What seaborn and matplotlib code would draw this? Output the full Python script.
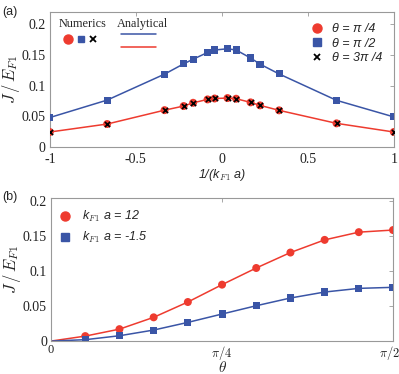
import numpy as np
import pandas as pd
import matplotlib
matplotlib.use("Agg")
import matplotlib.pyplot as plt
import matplotlib.transforms as mtransforms
from matplotlib.lines import Line2D
import seaborn as sns

# ---------------- data ----------------
inv_kfa = [-1.0, -0.667, -0.333, -0.222, -0.167, -0.083, -0.042, 0.033, 0.083, 0.167, 0.222, 0.333, 0.667, 1.0]
j_pi2 = [0.048, 0.0764, 0.1187, 0.1355, 0.143, 0.154, 0.158, 0.160, 0.158, 0.145, 0.135, 0.119, 0.076, 0.049]
j_pi4 = [0.0244, 0.0374, 0.060, 0.0667, 0.072, 0.0775, 0.079, 0.0797, 0.0786, 0.0727, 0.0678, 0.0597, 0.0385, 0.0244]
j_3pi4 = j_pi4

theta_k = [1, 2, 3, 4, 5, 6, 7, 8, 9, 10]  # theta = k*pi/20
j_kfa12 = [0.0071, 0.017, 0.0338, 0.0556, 0.0803, 0.104, 0.126, 0.144, 0.155, 0.158]
j_kfam15 = [0.0020, 0.0076, 0.0157, 0.0266, 0.0385, 0.0503, 0.0613, 0.0698, 0.075, 0.0765]

RED = "#EE3B2F"
BLUE = "#3A55A6"

sns.set_style("white")
plt.rcParams["font.family"] = ["Liberation Serif", "DejaVu Serif"]
plt.rcParams["mathtext.fontset"] = "cm"

fig = plt.figure(figsize=(3.99, 3.74), dpi=100)
ax1 = fig.add_axes([0.125, 0.607, 0.862, 0.361])
ax2 = fig.add_axes([0.128, 0.088, 0.857, 0.3824])

def style_axes(ax):
    for s in ax.spines.values():
        s.set_color("#999999")
        s.set_linewidth(0.8)
    ax.tick_params(direction="in", length=3, width=0.6, color="#999999",
                   top=True, right=True, labelsize=10, pad=3, labelcolor="#222222")
    ax.tick_params(axis="x", pad=4)

MS_C = 33
MS_S = 26

# ---------------- panel (a) ----------------
dfa = pd.DataFrame({"x": inv_kfa, "b": j_pi2, "r": j_pi4, "k": j_3pi4})
sns.lineplot(data=dfa, x="x", y="b", ax=ax1, color=BLUE, lw=1.1)
sns.lineplot(data=dfa, x="x", y="r", ax=ax1, color=RED, lw=1.1)
sns.scatterplot(data=dfa, x="x", y="r", ax=ax1, color=RED, marker="o", s=MS_C, edgecolor="none", zorder=3)
sns.scatterplot(data=dfa, x="x", y="b", ax=ax1, color=BLUE, marker="s", s=MS_S, edgecolor="none", zorder=3)
sns.scatterplot(data=dfa, x="x", y="k", ax=ax1, color="black", marker="x", s=14, linewidth=1.2, zorder=4)
ax1.set_xlim(-1, 1)
ax1.set_ylim(0, 0.22)
ax1.set_xticks([-1, -0.5, 0, 0.5, 1])
ax1.set_xticklabels(["-1", "-0.5", "0", "0.5", "1"])
ax1.set_yticks([0, 0.05, 0.1, 0.15, 0.2])
ax1.set_yticklabels(["0", "0.05", "0.1", "0.15", "0.2"])
style_axes(ax1)
ax1.set_xlabel(r"1/(k$_{F1}$ a)", fontsize=9, style="italic", family="Liberation Sans", labelpad=1)
ax1.set_ylabel(r"$J\,/\,E_{F1}$", fontsize=12)
ax1.yaxis.set_label_coords(-0.082, 0.5)

# custom legend left
ax1.text(0.026, 0.911, "Numerics", transform=ax1.transAxes, fontsize=8.8, va="center", ha="left")
ax1.text(0.195, 0.911, "Analytical", transform=ax1.transAxes, fontsize=8.8, va="center", ha="left")
ax1.add_line(Line2D([0.052], [0.80], transform=ax1.transAxes, marker="o", color=RED, ms=6.5, ls="none"))
ax1.add_line(Line2D([0.09], [0.80], transform=ax1.transAxes, marker="s", color=BLUE, ms=5, ls="none"))
ax1.add_line(Line2D([0.125], [0.80], transform=ax1.transAxes, marker="x", color="black", ms=4, mew=1.3, ls="none"))
ax1.add_line(Line2D([0.206, 0.308], [0.837, 0.837], transform=ax1.transAxes, color=BLUE, lw=1.1))
ax1.add_line(Line2D([0.206, 0.308], [0.741, 0.741], transform=ax1.transAxes, color=RED, lw=1.1))

h1 = [Line2D([], [], marker="o", color=RED, ls="none", ms=6.5),
      Line2D([], [], marker="s", color=BLUE, ls="none", ms=5.2),
      Line2D([], [], marker="x", color="black", ls="none", ms=4, mew=1.3)]
ax1.legend(h1, [r"θ = π /4", r"θ = π /2", r"θ = 3π /4"], loc="upper right",
           frameon=False, handletextpad=0.6, labelspacing=0.2, handlelength=1.2,
           borderaxespad=0.5, prop={"family": "Liberation Sans", "style": "italic", "size": 9})

# ---------------- panel (b) ----------------
theta = [k * np.pi / 20 for k in theta_k]
dfb = pd.DataFrame({"t": [0.0] + theta, "r": [0.0] + j_kfa12, "b": [0.0] + j_kfam15})
sns.lineplot(data=dfb, x="t", y="r", ax=ax2, color=RED, lw=1.1)
sns.lineplot(data=dfb, x="t", y="b", ax=ax2, color=BLUE, lw=1.1)
dfm = dfb.iloc[1:]
sns.scatterplot(data=dfm, x="t", y="r", ax=ax2, color=RED, marker="o", s=MS_C, edgecolor="none", zorder=3)
sns.scatterplot(data=dfm, x="t", y="b", ax=ax2, color=BLUE, marker="s", s=MS_S, edgecolor="none", zorder=3)
ax2.set_xlim(0, np.pi / 2)
ax2.set_ylim(0, 0.2035)
ax2.set_xticks([0, np.pi / 4, np.pi / 2])
ax2.set_xticklabels(["0", r"$\pi/4$", r"$\pi/2$"])
ax2.set_yticks([0, 0.05, 0.1, 0.15, 0.2])
ax2.set_yticklabels(["0", "0.05", "0.1", "0.15", "0.2"])
style_axes(ax2)
ax2.tick_params(axis="x", pad=2, labelsize=9)
last = ax2.get_xticklabels()[-1]
last.set_transform(last.get_transform() + mtransforms.ScaledTranslation(-4 / 100, 0, fig.dpi_scale_trans))
ax2.set_xlabel(r"$\theta$", fontsize=11, labelpad=-1)
ax2.set_ylabel(r"$J\,/\,E_{F1}$", fontsize=12)
ax2.yaxis.set_label_coords(-0.082, 0.5)

h2 = [Line2D([], [], marker="o", color=RED, ls="none", ms=6.5),
      Line2D([], [], marker="s", color=BLUE, ls="none", ms=5.2)]
ax2.legend(h2, [r"k$_{F1}$ a = 12", r"k$_{F1}$ a = -1.5"], loc="upper left",
           bbox_to_anchor=(0.0, 0.975), frameon=False, handletextpad=0.9, labelspacing=0.45,
           handlelength=1.0, borderaxespad=0.2,
           prop={"family": "Liberation Sans", "style": "italic", "size": 9})

fig.text(0.005, 0.985, "(a)", fontsize=9, family="Liberation Sans", va="top")
fig.text(0.005, 0.49, "(b)", fontsize=9, family="Liberation Sans", va="top")

fig.savefig("out.png", dpi=100)
